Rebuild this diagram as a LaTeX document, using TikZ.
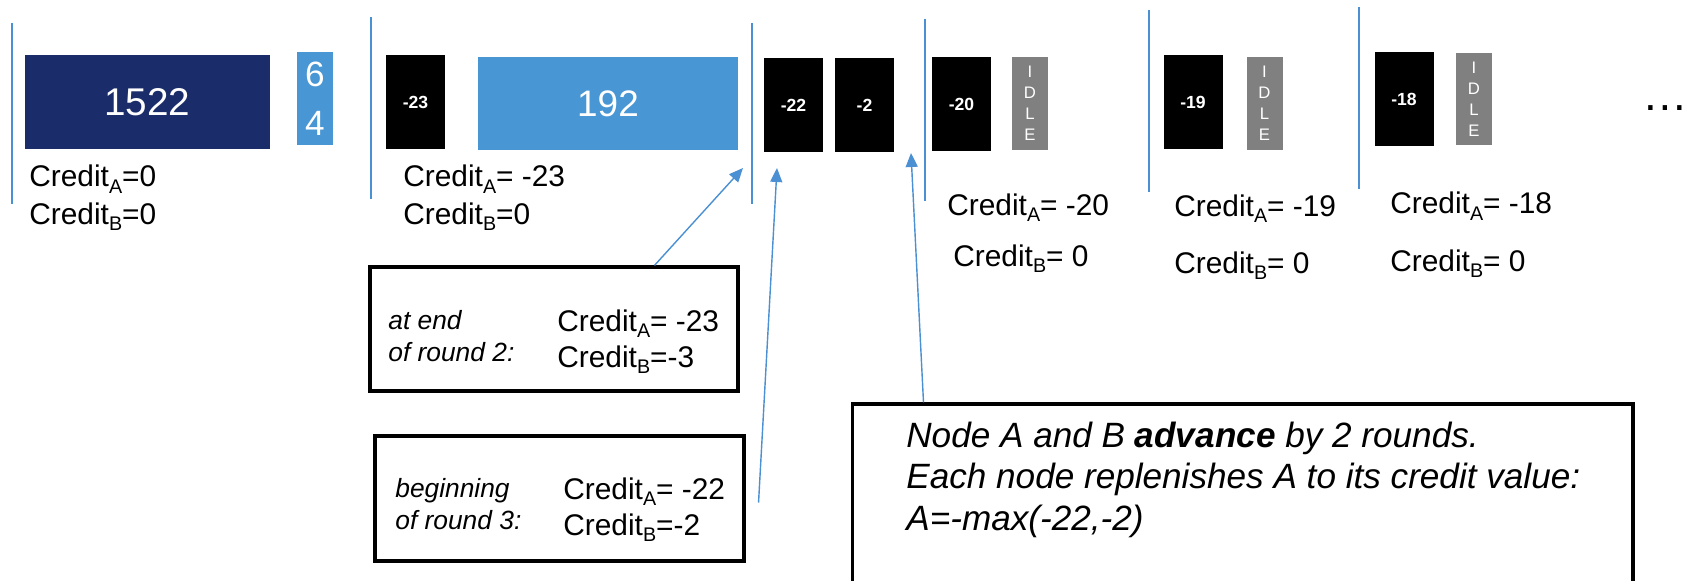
\documentclass[tikz,border=0pt]{standalone}
\usepackage{fontspec}
\setmainfont{Liberation Sans}
\usepackage{xcolor}
\usepackage{tikz}
\usetikzlibrary{calc,positioning,arrows.meta}

\definecolor{navy}{RGB}{27,44,106}
\definecolor{skyblue}{RGB}{72,150,212}
\definecolor{sepblue}{RGB}{74,144,210}
\definecolor{idlegray}{RGB}{128,128,128}

\newcommand{\lowsub}[1]{\raisebox{-0.22em}{\scalebox{0.66}{#1}}}
\newcommand{\crA}{Credit\lowsub{A}}
\newcommand{\crB}{Credit\lowsub{B}}

\begin{document}
\begin{tikzpicture}[
    x = 0.02cm, y = -0.02cm,
    sep/.style={draw = sepblue, line width = 1.1pt},
    slot/.style={
        rectangle, % shape
        inner sep = 0pt,
        text = white,
        minimum width = 1.18cm, minimum height = 1.88cm %size
      },
    negbox/.style={slot, fill = black, font = \fontsize{10}{12}\selectfont\bfseries},
    idlebox/.style={
        slot,
        fill = idlegray,
        minimum width = 0.72cm, minimum height = 1.86cm,
        align = center,
        font = \fontsize{9.5}{12}\selectfont
      },
    credit/.style={anchor = base west, inner sep = 0pt, font = \fontsize{17}{20}\selectfont},
    note/.style={rectangle, draw = black, line width = 1.8pt, inner sep = 0pt},
    remark/.style={anchor = base west, inner sep = 0pt, font = \fontsize{15}{18}\selectfont\itshape},
    pointer/.style={draw = sepblue, line width = 0.8pt, -{Triangle[length = 2.8mm, width = 2.4mm]}}
  ]
  \useasboundingbox (0,0) rectangle (1691,581);

  % round separators
  \draw[sep] (12,23) -- (12,204);
  \draw[sep] (371,17) -- (371,199);
  \draw[sep] (752,23) -- (752,204);
  \draw[sep] (925,19) -- (925,201);
  \draw[sep] (1149,10) -- (1149,192);
  \draw[sep] (1359,7) -- (1359,189);

  % packets per round
  \node[slot, fill = navy, minimum width = 4.9cm, font = \fontsize{22}{26}\selectfont] (big) at (147.5,102) {1522};
  \node[slot, fill = skyblue, minimum width = 0.72cm, minimum height = 1.86cm,
        align = center, font = \fontsize{20}{28}\selectfont] (small) at (315,98.5) {6\\4};
  \node[negbox] (r2a) at (415.5,102) {-23};
  \node[slot, fill = skyblue, minimum width = 5.2cm, minimum height = 1.86cm,
        font = \fontsize{21}{25}\selectfont] (r2b) at (608,103.5) {192};
  \node[negbox] (r3a) at (793.5,105) {-22};
  \node[negbox] (r3b) at (864.5,105) {-2};
  \node[negbox] (r4a) at (961.5,104) {-20};
  \node[idlebox] (r4b) at (1030,103.5) {I\\D\\L\\E};
  \node[negbox] (r5a) at (1193,102) {-19};
  \node[idlebox] (r5b) at (1264.5,103.5) {I\\D\\L\\E};
  \node[negbox] (r6a) at (1404,99) {-18};
  \node[idlebox] (r6b) at (1474,99) {I\\D\\L\\E};
  \node[anchor = base west, inner sep = 0pt, font = \fontsize{26}{30}\selectfont] (more) at (1642,111) {\dots};

  % credits after each round
  \node[credit] (c1a) at (29,187) {\crA=0};
  \node[credit] (c1b) at (29,224) {\crB=0};
  \node[credit] (c2a) at (403,187) {\crA= -23};
  \node[credit] (c2b) at (403,224) {\crB=0};
  \node[credit] (c4a) at (947,215) {\crA= -20};
  \node[credit] (c4b) at (953,266) {\crB= 0};
  \node[credit] (c5a) at (1174,216) {\crA= -19};
  \node[credit] (c5b) at (1174,273) {\crB= 0};
  \node[credit] (c6a) at (1390,214) {\crA= -18};
  \node[credit] (c6b) at (1390,271) {\crB= 0};

  % end of round 2
  \node[note, minimum width = 7.36cm, minimum height = 2.48cm] (endtwo) at (554,329) {};
  \node[remark] (endtwoL1) at (388,329) {at end};
  \node[remark] (endtwoL2) at (388,361) {of round 2:};
  \node[credit] (endtwoA) at (557,331) {\crA= -23};
  \node[credit] (endtwoB) at (557,367) {\crB=-3};

  % beginning of round 3
  \node[note, minimum width = 7.38cm, minimum height = 2.5cm] (begthree) at (559.5,498.5) {};
  \node[remark] (begthreeL1) at (395,497) {beginning};
  \node[remark] (begthreeL2) at (395,529) {of round 3:};
  \node[credit] (begthreeA) at (563,499) {\crA= -22};
  \node[credit] (begthreeB) at (563,535) {\crB=-2};

  % explanation, cut off at the bottom
  \node[note, minimum width = 15.62cm, minimum height = 4.4cm] (advance) at (1242.5,514) {};
  \node[anchor = base west, inner sep = 0pt, font = \fontsize{20}{23}\selectfont\itshape] (advL1) at (906,447)
    {Node A and B \textbf{advance} by 2 rounds.};
  \node[anchor = base west, inner sep = 0pt, font = \fontsize{20}{23}\selectfont\itshape] (advL2) at (906,488)
    {Each node replenishes A to its credit value:};
  \node[anchor = base west, inner sep = 0pt, font = \fontsize{20}{23}\selectfont\itshape] (advL3) at (906,530)
    {A=-max(-22,-2)};

  % pointers
  \coordinate (tipA) at (743,168);
  \coordinate (tipB) at (777,168);
  \coordinate (tipC) at (911,153);
  \coordinate (tailB) at ($(begthree.east)+(13,4)$);
  \draw[pointer] ($(endtwo.north west)+(286,0)$) -- (tipA);
  \draw[pointer] (tailB) -- (tipB);
  \draw[pointer] ($(advance.north west)+(73,0)$) -- (tipC);
\end{tikzpicture}
\end{document}
